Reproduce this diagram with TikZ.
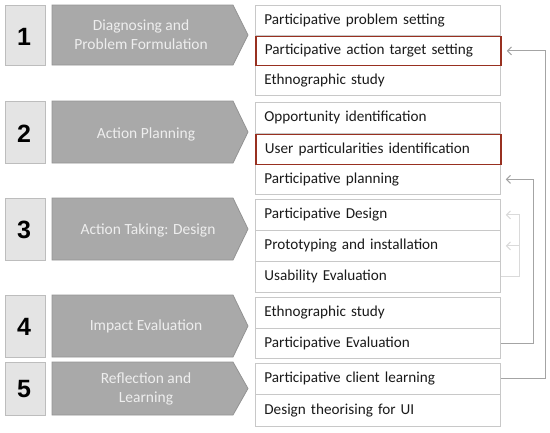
\documentclass[tikz,border=0pt]{standalone}
\usepackage{fontspec}
\setmainfont{Carlito}
\newfontfamily\numfont{Liberation Sans}
\usetikzlibrary{arrows.meta}
\definecolor{numfill}{HTML}{E4E4E4}
\definecolor{numborder}{HTML}{BDBDBD}
\definecolor{arrfill}{HTML}{A9A9A9}
\definecolor{arrborder}{HTML}{939393}
\definecolor{arrtext}{HTML}{EEEEEE}
\definecolor{rowborder}{HTML}{C8C8C8}
\definecolor{redc}{HTML}{983020}
\definecolor{fbdark}{HTML}{A4A4A4}
\definecolor{fblight}{HTML}{DADADA}
\definecolor{rowtext}{HTML}{1A1A1A}
\begin{document}
\begin{tikzpicture}[x=1pt,y=-1pt,
  numbox/.style={draw=numborder, fill=numfill, line width=1pt},
  numtext/.style={font=\numfont\bfseries\fontsize{25}{27}\selectfont, text=black},
  arrshape/.style={draw=arrborder, fill=arrfill, line width=0.8pt, line join=miter},
  arrtxt/.style={font=\fontsize{15.5}{19}\selectfont, text=arrtext, align=center},
  row/.style={draw=rowborder, line width=0.8pt, anchor=north west, minimum width=245pt,
    text width=227pt, inner xsep=9pt, inner ysep=0pt, align=left, text=rowtext,
    font=\fontsize{15.2}{17}\selectfont},
  redrow/.style={row, draw=redc, line width=1.8pt},
  fb/.style={draw=fbdark, line width=1pt, -{Straight Barb[length=4pt,width=8pt]}, shorten >=5pt},
  fbl/.style={draw=fblight, line width=1pt, -{Straight Barb[length=4pt,width=8pt]}, shorten >=5pt}
]
\useasboundingbox (0,0) rectangle (550,432);

% number boxes
\draw[numbox] (5,5) rectangle (45,65);
\node[numtext] (n1) at (24,37) {1};
\draw[numbox] (5,101) rectangle (45,163);
\node[numtext] (n2) at (24,134) {2};
\draw[numbox] (5,198) rectangle (45,260);
\node[numtext] (n3) at (24,230) {3};
\draw[numbox] (5,295) rectangle (45,357);
\node[numtext] (n4) at (24,327) {4};
\draw[numbox] (5,362) rectangle (45,415);
\node[numtext] (n5) at (24,389) {5};

% arrow shapes
\draw[arrshape] (52,5) -- (233,5) -- (248,35) -- (233,65) -- (52,65) -- cycle;
\node[arrtxt] (a1) at (141,35) {Diagnosing and\\Problem Formulation};
\draw[arrshape] (52,101) -- (233,101) -- (248,132) -- (233,163) -- (52,163) -- cycle;
\node[arrtxt] (a2) at (146,134) {Action Planning};
\draw[arrshape] (52,198) -- (233,198) -- (248,229) -- (233,260) -- (52,260) -- cycle;
\node[arrtxt] (a3) at (148,230) {Action Taking: Design};
\draw[arrshape] (52,295) -- (233,295) -- (248,326) -- (233,357) -- (52,357) -- cycle;
\node[arrtxt] (a4) at (146,326) {Impact Evaluation};
\draw[arrshape] (52,362) -- (233,362) -- (248,388.5) -- (233,415) -- (52,415) -- cycle;
\node[arrtxt] (a5) at (146,389) {Reflection and\\Learning};

% rows
\node[row, minimum height=30pt] (r1a) at (255,5) {Participative problem setting};
\node[row, minimum height=30pt] (r1c) at (255,65) {Ethnographic study};
\node[redrow, minimum height=29pt] (r1b) at (255,35.5) {Participative action target setting};

\node[row, minimum height=31pt] (r2a) at (255,102) {Opportunity identification};
\node[row, minimum height=30pt] (r2c) at (255,164) {Participative planning};
\node[redrow, minimum height=30pt] (r2b) at (255,133.5) {User particularities identification};

\node[row, minimum height=31pt] (r3a) at (255,199) {Participative Design};
\node[row, minimum height=31pt] (r3b) at (255,230) {Prototyping and installation};
\node[row, minimum height=31pt] (r3c) at (255,261) {Usability Evaluation};

\node[row, minimum height=31pt] (r4a) at (255,297) {Ethnographic study};
\node[row, minimum height=30pt] (r4b) at (255,328) {Participative Evaluation};

\node[row, minimum height=31pt] (r5a) at (255,363) {Participative client learning};
\node[row, minimum height=32pt] (r5b) at (255,394) {Design theorising for UI};

% feedback connectors
\draw[fbl] (r3c.east) -- ++(19,0) coordinate (k3) |- (r3a.east);
\draw[fbl] (k3 |- r3b.east) -- (r3b.east);
\draw[fb] (r4b.east) -- ++(33,0) |- (r2c.east);
\draw[fb] (r5a.east) -- ++(45,0) |- (r1b.east);
\end{tikzpicture}
\end{document}
